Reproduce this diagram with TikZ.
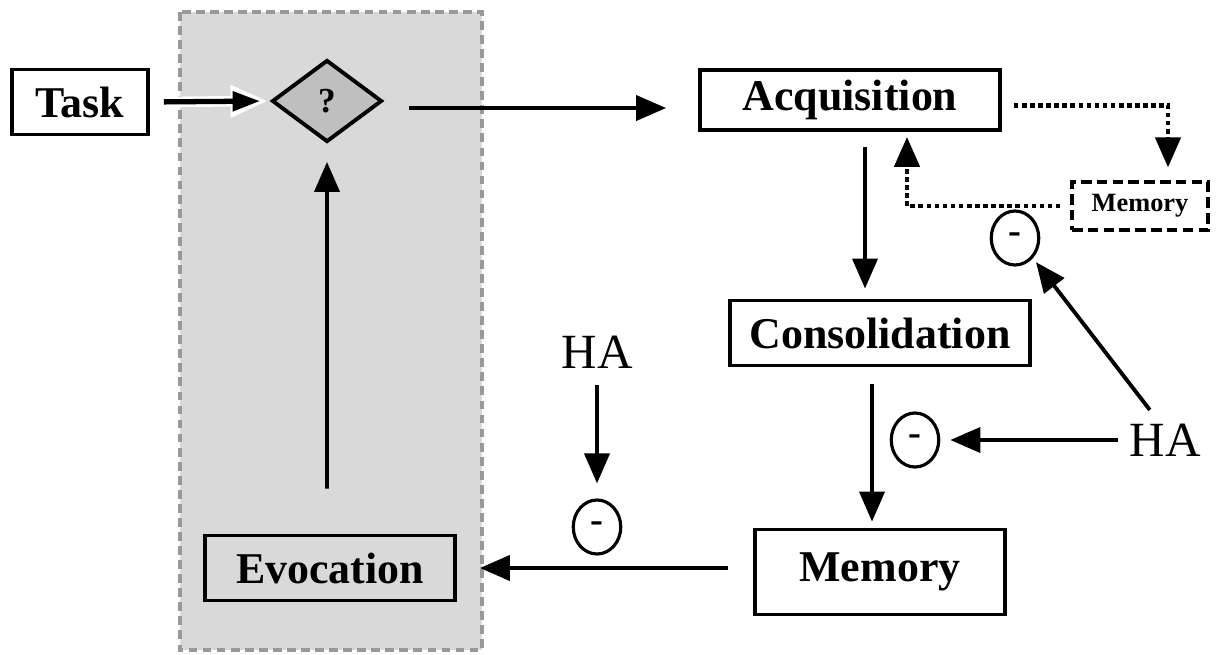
\documentclass[tikz,border=0pt]{standalone}
\usepackage{fontspec}
\setmainfont{Liberation Serif}
\usepackage{tikz}
\usetikzlibrary{shapes,arrows.meta}
\tikzset{%
    block/.style = {draw, line width=2.2pt, rectangle, align=center, inner sep=0pt,
        font=\fontsize{25}{30}\selectfont\bfseries},
    minus/.style = {draw, line width=1.8pt, ellipse, minimum width=0.95cm, minimum height=1.08cm,
        inner sep=0pt, font=\fontsize{22}{26}\selectfont\bfseries},
    hafont/.style = {font=\fontsize{28}{32}\selectfont},
}

\begin{document}
\begin{tikzpicture}[x=0.02cm, y=-0.02cm, line width=2.2pt,
    >={Triangle[length=0.6cm, width=0.5cm]}]
        \useasboundingbox (0,0) rectangle (1229,655);
        % shaded evocation area
        \draw[fill=gray!30, draw=gray!80, dashed, line width=1.8pt,
            dash pattern=on 5pt off 3pt] (180,12) rectangle (482,650);

        \draw
            node at (80,102) [block, minimum width=2.72cm, minimum height=1.3cm] (task)
            {Task}
            node at (327,101) [draw, diamond, fill=gray!50, line width=2.2pt, inner sep=0pt,
                minimum width=2.2cm, minimum height=1.64cm,
                font=\fontsize{20}{24}\selectfont\bfseries] (quest)
            {?}
            node at (850,100) [block, minimum width=6cm, minimum height=1.2cm] (acq)
            {Acquisition}
            node at (1140,206) [block, dashed, line width=1.8pt, dash pattern=on 6pt off 3pt,
                minimum width=2.72cm, minimum height=0.96cm,
                font=\fontsize{15}{18}\selectfont\bfseries] (memshort)
            {Memory}
            node at (880,333) [block, minimum width=6cm, minimum height=1.3cm] (cons)
            {Consolidation}
            node at (880,572) [block, minimum width=5cm, minimum height=1.7cm] (mem)
            {Memory}
            node at (330,568) [block, minimum width=5cm, minimum height=1.3cm] (evo)
            {Evocation}
            node at (1165,440) [hafont, inner sep=0pt] (ha_cons) {HA}
            node at (597,352) [hafont, inner sep=0pt] (ha_evo) {HA}
            node at (1015,238) [minus] (inh_acq) {-}
            node at (915,440) [minus] (inh_cons) {-}
            node at (597,527) [minus] (inh_evo) {-};

        % task enters the decision
        \draw[->, white, line width=6pt, shorten <=0.28cm, shorten >=0.04cm,
            >={Triangle[length=0.75cm, width=0.6cm]}] (task.east) -- (quest.west);
        \draw[->, line width=3pt, shorten <=0.28cm, shorten >=0.2cm,
            >={Triangle[length=0.55cm, width=0.38cm]}] (task.east) -- (quest.west);

        \draw[->, shorten <=0.5cm, shorten >=0.64cm] ([yshift=-4]quest.east) -- ([yshift=-4]quest.east -| acq.west);
        \draw[->, dotted, line width=2.6pt, shorten <=0.24cm, shorten >=0.26cm]
            ([yshift=-3]acq.east) -| ([xshift=0.56cm]memshort.north);
        \draw[->, dotted, line width=2.6pt, shorten <=0.2cm, shorten >=0.1cm]
            (memshort.west) -| ([xshift=1.14cm]acq.south);
        \draw[->, shorten <=0.3cm, shorten >=0.2cm]
            ([xshift=0.3cm]acq.south) -- ([xshift=0.3cm]acq.south |- cons.north);
        \draw[->, shorten <=0.34cm, shorten >=0.12cm]
            ([xshift=-0.16cm]cons.south) -- ([xshift=-0.16cm]cons.south |- mem.north);
        \draw[->, shorten <=0.5cm, shorten >=0.46cm] (mem.west |- evo.east) -- (evo.east);
        \draw[->, shorten <=0.9cm, shorten >=0.36cm] ([xshift=-0.06cm]evo.north) -- (quest.south);

        % inhibitions by HA
        \draw[->, shorten <=0.2cm, shorten >=0.2cm] (ha_cons.west) -- (inh_cons.east);
        \draw[->, shorten <=0.3cm, shorten >=0.1cm] ([xshift=-0.12cm]ha_cons.north) -- (inh_acq.south east);
        \draw[->, shorten <=0.3cm, shorten >=0.3cm] (ha_evo.south) -- (inh_evo.north);
    \end{tikzpicture}
\end{document}
